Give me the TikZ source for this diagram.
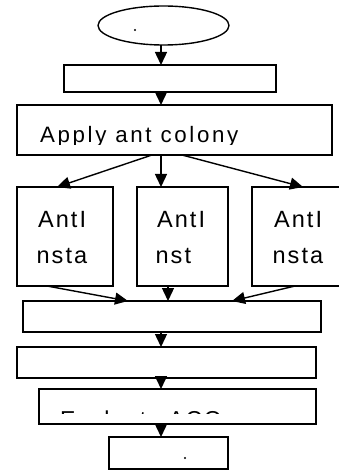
\documentclass[tikz,border=0pt]{standalone}
\usepackage{fontspec}
\usetikzlibrary{arrows.meta,shapes.geometric}
\newfontfamily\flowfont[LetterSpace=9.0]{Liberation Sans}
\newfontfamily\applyfont[LetterSpace=12.0]{Liberation Sans}
\newfontfamily\evalfont[LetterSpace=7.0]{Liberation Sans}
\tikzset{
  box/.style={draw, line width=1.4pt, rectangle, inner sep=0pt, outer sep=0pt},
  oval/.style={draw, line width=1.4pt, ellipse, inner sep=0pt, outer sep=0pt},
  arr/.style={line width=1.4pt, -{Triangle[length=13pt,width=12pt]}},
  lbl/.style={inner sep=0pt, outer sep=0pt, anchor=base west},
  dotmark/.style={circle, fill, inner sep=0pt, minimum size=2.2pt},
}
\begin{document}
\begin{tikzpicture}[x=1pt,y=-1pt]
\clip (0,0) rectangle (339,470);
\fill[white] (0,0) rectangle (339,470);

% shapes
\node[oval, minimum width=131pt, minimum height=39pt] (start) at (163.5,25.5) {};
\node[box, minimum width=212pt, minimum height=27pt] (init) at (170,78.5) {};
\node[box, minimum width=315pt, minimum height=50pt] (apply) at (174.5,130) {};
\node[box, minimum width=96pt, minimum height=99pt] (antA) at (65,236.5) {};
\node[box, minimum width=91pt, minimum height=99pt] (antB) at (182.5,236.5) {};
\node[box, minimum width=98pt, minimum height=99pt] (antC) at (301,236.5) {};
\node[box, minimum width=298pt, minimum height=31pt] (merge) at (172,316.5) {};
\node[box, minimum width=299pt, minimum height=31pt] (update) at (166.5,362.5) {};
\node[box, minimum width=277pt, minimum height=35pt] (eval) at (177.5,406.5) {};
\node[box, minimum width=119pt, minimum height=32pt] (stop) at (168.5,453) {};

% small marks
\node[dotmark] (startdot) at (135,30) {};
\node[dotmark] (stopdot) at (185,458) {};

% labels
\begin{scope}
  \clip (17,105) rectangle (332,144.5);
  \node[lbl, font={\applyfont\fontsize{22.3}{26}\selectfont}] (applytxt) at (40,143) {Apply ant colony};
\end{scope}
\node[lbl, font={\flowfont\fontsize{23.5}{27}\selectfont}] (a1) at (38,227) {AntI};
\node[lbl, font={\flowfont\fontsize{23.5}{27}\selectfont}] (a2) at (36.5,263) {nsta};
\node[lbl, font={\flowfont\fontsize{23.5}{27}\selectfont}] (b1) at (157,227) {AntI};
\node[lbl, font={\flowfont\fontsize{23.5}{27}\selectfont}] (b2) at (155.5,263) {nst};
\node[lbl, font={\flowfont\fontsize{23.5}{27}\selectfont}] (c1) at (274,227) {AntI};
\node[lbl, font={\flowfont\fontsize{23.5}{27}\selectfont}] (c2) at (272.5,263) {nsta};
\begin{scope}
  \clip (39,389) rectangle (316,413);
  \node[lbl, font={\evalfont\fontsize{23}{27}\selectfont}] (evaltxt) at (60,427.5) {Evaluate ACO};
\end{scope}

% connector columns
\coordinate (xm) at (161,0);
\coordinate (xl) at (152,0);
\coordinate (xr) at (182,0);
\coordinate (xa) at (57,0);
\coordinate (xc) at (303,0);
\coordinate (xa2) at (47,0);
\coordinate (xb2) at (168,0);
\coordinate (xc2) at (295,0);
\coordinate (xl2) at (128,0);
\coordinate (xr2) at (232,0);

% connectors
\draw[arr] (start.south -| xm) -- (init.north -| xm);
\draw[arr] (init.south -| xm) -- (apply.north -| xm);
\draw[arr] (apply.south -| xl) -- (antA.north -| xa);
\draw[arr] (apply.south -| xm) -- (antB.north -| xm);
\draw[arr] (apply.south -| xr) -- (antC.north -| xc);
\draw[arr] (antA.south -| xa2) -- (merge.north -| xl2);
\draw[arr] (antB.south -| xb2) -- (merge.north -| xb2);
\draw[arr] (antC.south -| xc2) -- (merge.north -| xr2);
\draw[arr] (merge.south -| xm) -- (update.north -| xm);
\draw[arr] (update.south -| xm) -- (eval.north -| xm);
\draw[arr] (eval.south -| xm) -- (stop.north -| xm);
\end{tikzpicture}
\end{document}
